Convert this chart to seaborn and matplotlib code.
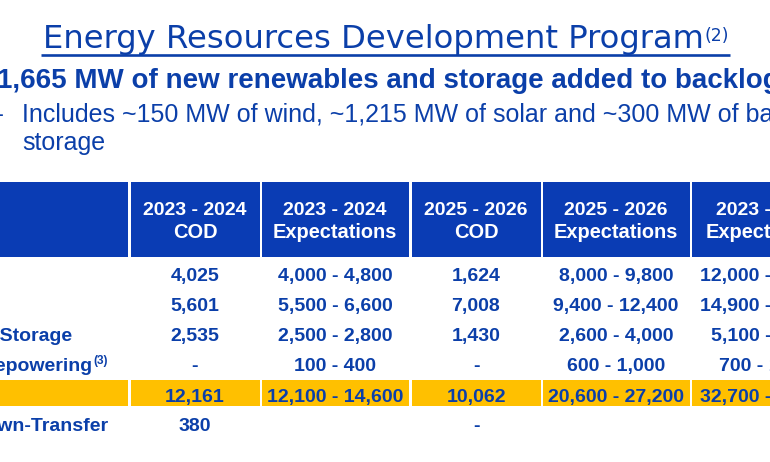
import matplotlib
matplotlib.use("Agg")
import seaborn as sns
from matplotlib import pyplot as plt

# table content
row_labels = ["Wind", "Solar", "Energy Storage", "Wind Repowering", "Total", "Build-Own-Transfer"]
col_headers = ["2023 - 2024\nCOD", "2023 - 2024\nExpectations", "2025 - 2026\nCOD",
               "2025 - 2026\nExpectations", "2023 - 2026\nExpectations"]
cod_2324 = ["4,025", "5,601", "2,535", "-", "12,161", "380"]
exp_2324 = ["4,000 - 4,800", "5,500 - 6,600", "2,500 - 2,800", "100 - 400", "12,100 - 14,600", ""]
cod_2526 = ["1,624", "7,008", "1,430", "-", "10,062", "-"]
exp_2526 = ["8,000 - 9,800", "9,400 - 12,400", "2,600 - 4,000", "600 - 1,000", "20,600 - 27,200", ""]
exp_2326 = ["12,000 - 14,600", "14,900 - 19,000", "5,100 - 6,800", "700 - 1,400", "32,700 - 41,800", ""]
columns = [cod_2324, exp_2324, cod_2526, exp_2526, exp_2326]

title = "Energy Resources Development Program"
headline = "1,665 MW of new renewables and storage added to backlog"
sub_line = "Includes ~150 MW of wind, ~1,215 MW of solar and ~300 MW of battery\nstorage"

BLUE = "#0b3fa9"
HEAD = "#0a3cb4"
GOLD = "#ffc000"

sns.set_theme(style="white")
plt.rcParams["font.family"] = ["Liberation Sans", "DejaVu Sans"]

fig = plt.figure(figsize=(7.7, 4.62), dpi=100)
ax = fig.add_axes([0, 0, 1, 1])
ax.set_xlim(0, 770)
ax.set_ylim(462, 0)
ax.axis("off")

# layout (pixels)
col_left = [0, 131, 262, 412, 543, 692]
col_right = [128, 260, 409, 541, 690, 840]
col_w = [r - l for l, r in zip(col_left, col_right)]
col_mid = [195, 335, 476, 616, 768]
row_base = [281, 311, 341, 371, 402, 431]

# title + superscript + underline
t = ax.text(43, 48, title, fontsize=23.2, family="DejaVu Sans", color=BLUE,
            va="baseline")
fig.canvas.draw()
bb = t.get_window_extent()
s = ax.text(bb.x1 + 1, 41, "(2)", fontsize=12.5, family="DejaVu Sans", color=BLUE,
            va="baseline")
bb2 = s.get_window_extent()
ax.plot([bb.x0 - 2, bb2.x1 + 1], [55, 55], color=BLUE, lw=1.9, solid_capstyle="butt")

ax.text(-3, 88, headline, fontsize=20, fontweight="bold", color=BLUE, va="baseline")
ax.text(-11, 122, "\u2013", fontsize=18, color=BLUE, va="baseline")
ax.text(22, 122, sub_line.split("\n")[0], fontsize=18, color=BLUE, va="baseline")
ax.text(22, 150, sub_line.split("\n")[1], fontsize=18, color=BLUE, va="baseline")

# header row and total row cells
ax.bar(col_left, 75, width=col_w, bottom=182, align="edge", color=HEAD, lw=0)
ax.bar(col_left, 26, width=col_w, bottom=380, align="edge", color=GOLD, lw=0)

for x, h in zip(col_mid, col_headers):
    l1, l2 = h.split("\n")
    ax.text(x, 215, l1, fontsize=14, fontweight="bold", color="white", ha="center", va="baseline")
    ax.text(x, 238, l2, fontsize=14.4, fontweight="bold", color="white", ha="center", va="baseline")

for x, vals in zip(col_mid, columns):
    for y, v in zip(row_base, vals):
        ax.text(x, y, v, fontsize=14, fontweight="bold", color=BLUE, ha="center", va="baseline")

for y, lab in zip(row_base, row_labels):
    lt = ax.text(-72, y, lab, fontsize=14, fontweight="bold", color=BLUE, va="baseline")
    if lab == "Wind Repowering":
        fig.canvas.draw()
        lb = lt.get_window_extent()
        ax.text(lb.x1 + 1, 364, "(3)", fontsize=8.5, fontweight="bold", color=BLUE, va="baseline")

fig.savefig("out.png", dpi=100)
